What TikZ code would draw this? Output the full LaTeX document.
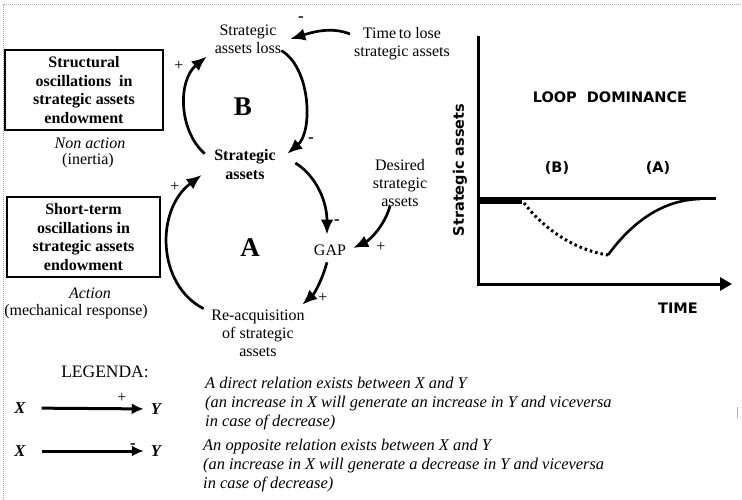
\documentclass[tikz,border=0pt]{standalone}
\usepackage{fontspec}
\setmainfont{Liberation Serif}
\newfontfamily\vfont{DejaVu Sans}
\usetikzlibrary{arrows.meta}
\begin{document}
\begin{tikzpicture}[x=1pt,y=1pt,
  txt/.style={font=\fontsize{16}{18}\selectfont, align=center, inner sep=0pt},
  btxt/.style={font=\bfseries\fontsize{16}{19}\selectfont, align=center, inner sep=0pt},
  big/.style={font=\bfseries\fontsize{27}{30}\selectfont, inner sep=0pt},
  sgn/.style={font=\fontsize{16}{18}\selectfont, inner sep=0pt},
  msgn/.style={font=\bfseries\fontsize{17}{18}\selectfont, inner sep=0pt},
  arr/.style={line width=2.7pt, -{Latex[length=15pt,width=12.5pt]}},
  larr/.style={line width=3pt, -{Latex[length=12pt,width=11pt]}},
  vb/.style={font=\vfont\bfseries\fontsize{14.5}{17}\selectfont, inner sep=0pt},
  lbox/.style={draw, line width=1.5pt, font=\bfseries\fontsize{16}{18.5}\selectfont, align=center, inner sep=0pt},
  leg/.style={font=\itshape\fontsize{16.4}{19}\selectfont, align=left, inner sep=0pt, anchor=west},
  xy/.style={font=\bfseries\itshape\fontsize{16.5}{18}\selectfont, inner sep=0pt}
]
\useasboundingbox (0,0) rectangle (742,-500);
\draw[gray!70, line width=1pt, dash pattern=on 1pt off 1pt] (3,-500) -- (3,-5) -- (742,-5);
\draw[gray!60, line width=0.8pt] (737,-407) -- (737,-418);

% left boxes
\node[lbox, minimum width=158pt, minimum height=80pt] (box1) at (84,-90) {Structural\\oscillations\ \ in\\strategic assets\\endowment};
\node[txt] (nonact) at (90,-143) {\itshape Non action};
\node[txt] (inertia) at (88,-161) {(inertia)};
\node[lbox, minimum width=153pt, minimum height=80pt] (box2) at (83.5,-237) {Short-term\\oscillations in\\strategic assets\\endowment};
\node[txt] (act) at (90,-293) {\itshape Action};
\node[txt] (mech) at (76,-312) {(mechanical response)};

% causal loop nodes
\node[txt] (loss) at (248,-39) {Strategic\\assets loss};
\node[txt] (ttl) at (402,-44) {Time\,to lose\\strategic assets};
\node[btxt] (sa) at (245,-165) {Strategic\\assets};
\node[txt] (dsa) at (400,-183) {Desired\\strategic\\assets};
\node[txt] (gap) at (330,-250) {GAP};
\node[txt] (reacq) at (258,-333) {Re-acquisition\\of strategic\\assets};
\node[big] (lB) at (243,-107) {B};
\node[big] (lA) at (250,-248) {A};

% connectors
\draw[arr] ([shift={(-9.5,-4)}]sa.north west) .. controls (178,-130) and (178,-80) .. ([shift={(-8,-3)}]loss.south west);
\draw[arr] ([yshift=3pt]loss.south east) .. controls (311,-68) and (313,-132) .. ([shift={(11.5,-4)}]sa.north east);
\draw[arr] ([shift={(-4,10)}]ttl.west) .. controls (330,-26) and (310,-33) .. ([xshift=9pt]loss.east);
\draw[arr] ([shift={(19.5,2)}]sa.east) .. controls (315,-175) and (327,-200) .. ([shift={(-3,9.7)}]gap.north);
\draw[arr] ([shift={(-10,1)}]dsa.south) .. controls (385,-225) and (370,-240) .. ([shift={(7,2)}]gap.east);
\draw[arr] ([shift={(-3,-6.7)}]gap.south) .. controls (322,-280) and (315,-293) .. ([shift={(-2.5,4.75)}]reacq.north east);
\draw[arr] ([shift={(-7.5,0.75)}]reacq.north west) .. controls (157,-285) and (155,-210) .. ([shift={(-12.5,-10)}]sa.west);

% signs
\node[msgn] (s1) at (301,-19) {-};
\node[sgn] (s2) at (179,-66) {+};
\node[msgn] (s3) at (311,-140) {-};
\node[sgn] (s4) at (175,-187) {+};
\node[msgn] (s5) at (337,-222) {-};
\node[sgn] (s6) at (381,-247) {+};
\node[sgn] (s7) at (323,-298) {+};

% chart
\draw[line width=3pt] (478,-36) -- (478,-285.5);
\draw[line width=3pt, -{Triangle[length=12pt,width=13pt]}] (476.5,-284) -- (732,-284);
\draw[line width=3.5pt] (478,-198.5) -- (716,-198.5);
\fill (478,-196.7) rectangle (522,-204);
\draw[line width=3pt, dash pattern=on 2.5pt off 3pt] (524,-203) .. controls (545,-230) and (575,-250) .. (608,-255);
\draw[line width=2.6pt] (608,-255) .. controls (630,-225) and (660,-200) .. (700,-199);
\node[vb] (ld) at (610,-97) {LOOP\ \ DOMINANCE};
\node[vb, rotate=90] (yl) at (460,-170) {Strategic assets};
\node[vb] (cb) at (557,-168) {(B)};
\node[vb] (ca) at (658,-168) {(A)};
\node[vb] (tm) at (678,-308) {TIME};

% legend
\node[font=\fontsize{17.5}{20}\selectfont, inner sep=0pt] (legenda) at (105,-372) {LEGENDA:};
\node[xy] (x1) at (20,-408) {X};
\node[xy] (y1) at (156,-409) {Y};
\draw[larr, shorten <=16pt, shorten >=7pt] (x1) -- (y1);
\node[sgn] (p1) at (122,-398) {+};
\node[leg] (t1) at (205,-404) {A direct relation exists between X and Y\\(an increase in X will generate an increase in Y and viceversa\\in case of decrease)};
\node[xy] (x2) at (20,-451) {X};
\node[xy] (y2) at (156,-451) {Y};
\draw[larr, shorten <=16pt, shorten >=7pt] (x2) -- (y2);
\node[msgn] (m1) at (133,-446) {-};
\node[leg] (t2) at (203,-466) {An opposite relation exists between X and Y\\(an increase in X will generate a decrease in Y and viceversa\\in case of decrease)};
\end{tikzpicture}
\end{document}
